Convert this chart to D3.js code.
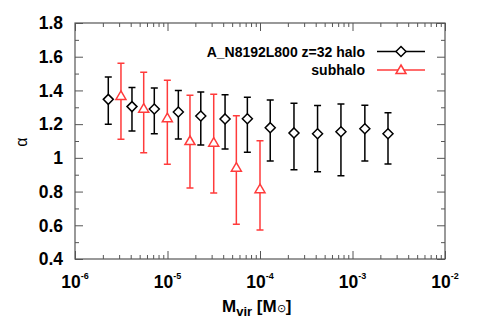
<!DOCTYPE html>
<html>
<head>
    <script src="https://d3js.org/d3.v7.min.js"></script>
    <style>
        body { margin: 0; background: #fff; }
        text { font-family: "Liberation Sans", Arial, sans-serif; }
    </style>
</head>
<body>
    <svg width="480" height="336"></svg>

    <script>
        // halo (black diamonds)
        var haloMass  = [2.29e-6, 4.13e-6, 7.2e-6, 1.31e-5, 2.29e-5, 4.19e-5, 7.3e-5, 1.29e-4, 2.33e-4, 4.19e-4, 7.5e-4, 1.36e-3, 2.42e-3];
        var haloAlpha = [1.347, 1.304, 1.290, 1.272, 1.248, 1.231, 1.232, 1.179, 1.148, 1.143, 1.155, 1.173, 1.143];
        var haloHi    = [1.480, 1.418, 1.414, 1.400, 1.391, 1.375, 1.359, 1.343, 1.324, 1.310, 1.320, 1.312, 1.268];
        var haloLo    = [1.200, 1.159, 1.143, 1.112, 1.076, 1.053, 1.033, 0.981, 0.930, 0.918, 0.894, 0.981, 0.964];

        // subhalo (red triangles)
        var subMass  = [3.14e-6, 5.53e-6, 9.96e-6, 1.75e-5, 3.16e-5, 5.55e-5, 1.0e-4];
        var subAlpha = [1.367, 1.292, 1.235, 1.100, 1.090, 0.942, 0.814];
        var subHi    = [1.561, 1.508, 1.460, 1.371, 1.377, 1.250, 1.102];
        var subLo    = [1.110, 1.031, 0.962, 0.821, 0.792, 0.606, 0.572];

        var yTicks = [0.4, 0.6, 0.8, 1, 1.2, 1.4, 1.6, 1.8];
        var xDecades = [-6, -5, -4, -3, -2];
        var seriesNames = ["A_N8192L800 z=32 halo", "subhalo"];

        var pLeft = 75, pRight = 445, pTop = 23, pBottom = 259;
        var red = "#ff3b3b";

        var svg = d3.select("svg");

        var x = d3.scaleLog().domain([1e-6, 1e-2]).range([pLeft, pRight]);
        var y = d3.scaleLinear().domain([0.4, 1.8]).range([pBottom, pTop]);

        // minor ticks
        var xMinor = [];
        xDecades.slice(0, -1).forEach(function(e) {
            for (var k = 2; k <= 9; k++) xMinor.push(k * Math.pow(10, e));
        });
        var yMinor = d3.range(0.5, 1.8, 0.2);

        var axisColor = "#555";
        function styleAxis(g) {
            g.select(".domain").remove();
            g.selectAll("line").attr("stroke", axisColor);
            g.selectAll("text").remove();
        }

        var xMajor = xDecades.map(function(e) { return Math.pow(10, e); });

        svg.append("g").attr("transform", "translate(0," + pBottom + ")")
            .call(d3.axisBottom(x).tickValues(xMajor).tickSize(-8)).call(styleAxis);
        svg.append("g").attr("transform", "translate(0," + pBottom + ")")
            .call(d3.axisBottom(x).tickValues(xMinor).tickSize(-4)).call(styleAxis);
        svg.append("g").attr("transform", "translate(0," + pTop + ")")
            .call(d3.axisTop(x).tickValues(xMajor).tickSize(-8)).call(styleAxis);
        svg.append("g").attr("transform", "translate(0," + pTop + ")")
            .call(d3.axisTop(x).tickValues(xMinor).tickSize(-4)).call(styleAxis);
        svg.append("g").attr("transform", "translate(" + pLeft + ",0)")
            .call(d3.axisLeft(y).tickValues(yTicks).tickSize(-8)).call(styleAxis);
        svg.append("g").attr("transform", "translate(" + pLeft + ",0)")
            .call(d3.axisLeft(y).tickValues(yMinor).tickSize(-4)).call(styleAxis);
        svg.append("g").attr("transform", "translate(" + pRight + ",0)")
            .call(d3.axisRight(y).tickValues(yTicks).tickSize(-8)).call(styleAxis);
        svg.append("g").attr("transform", "translate(" + pRight + ",0)")
            .call(d3.axisRight(y).tickValues(yMinor).tickSize(-4)).call(styleAxis);

        svg.append("rect")
            .attr("x", pLeft).attr("y", pTop)
            .attr("width", pRight - pLeft).attr("height", pBottom - pTop)
            .attr("fill", "none").attr("stroke", axisColor).attr("stroke-width", 1.2);

        // y tick labels
        svg.selectAll(".ylab").data(yTicks).enter().append("text")
            .attr("x", 63).attr("y", function(d) { return y(d) + 6.3; })
            .attr("text-anchor", "end")
            .attr("font-size", 17.5).attr("font-weight", "bold")
            .text(function(d) { return d === 1 ? "1" : d.toFixed(1); });

        // x tick labels 10^n
        var xl = svg.selectAll(".xlab").data(xDecades).enter().append("text")
            .attr("x", function(d) { return x(Math.pow(10, d)); })
            .attr("y", 287.5)
            .attr("text-anchor", "middle")
            .attr("font-weight", "bold");
        xl.append("tspan").attr("font-size", 17.5).text("10");
        xl.append("tspan").attr("font-size", 9).attr("dy", -8.5)
            .text(function(d) { return d; });

        // axis titles
        var xt = svg.append("text").attr("x", 222).attr("y", 312)
            .attr("font-weight", "bold").attr("font-size", 17);
        xt.append("tspan").text("M");
        xt.append("tspan").attr("font-size", 13).attr("dy", 4).text("vir");
        xt.append("tspan").attr("dy", -4).text(" [M");
        xt.append("tspan").attr("font-size", 11).attr("font-weight", "normal").text("\u2299");
        xt.append("tspan").text("]");

        svg.append("text")
            .attr("transform", "translate(27,142) rotate(-90)")
            .attr("text-anchor", "middle")
            .attr("font-size", 16)
            .text("\u03b1");

        // error bars + markers
        function drawSeries(xs, ys, hi, lo, color, symbol) {
            var g = svg.append("g");
            var pts = xs.map(function(v, i) { return {x: v, y: ys[i], hi: hi[i], lo: lo[i]}; });
            g.selectAll(".bar").data(pts).enter().append("path")
                .attr("fill", "none").attr("stroke", color).attr("stroke-width", 1.5)
                .attr("d", function(d) {
                    var px = x(d.x), cap = 3.5;
                    return "M" + px + "," + y(d.hi) + "V" + y(d.lo) +
                        "M" + (px - cap) + "," + y(d.hi) + "H" + (px + cap) +
                        "M" + (px - cap) + "," + y(d.lo) + "H" + (px + cap);
                });
            g.selectAll(".mk").data(pts).enter().append("path")
                .attr("transform", function(d) { return "translate(" + x(d.x) + "," + y(d.y) + ")"; })
                .attr("d", symbol)
                .attr("fill", "#fff").attr("stroke", color).attr("stroke-width", 1.5);
        }

        var diamond = "M0,-5L5,0L0,5L-5,0Z";
        var triangle = "M0,-5L5,3.5L-5,3.5Z";

        drawSeries(haloMass, haloAlpha, haloHi, haloLo, "#000", diamond);
        drawSeries(subMass, subAlpha, subHi, subLo, red, triangle);

        // legend
        var legend = [
            {name: seriesNames[0], color: "#000", sym: diamond, y: 51.5},
            {name: seriesNames[1], color: red, sym: triangle, y: 70}
        ];
        legend.forEach(function(l) {
            svg.append("text").attr("x", 365).attr("y", l.y + 5)
                .attr("text-anchor", "end").attr("font-size", 14).attr("font-weight", "bold")
                .text(l.name);
            svg.append("line").attr("x1", 377).attr("x2", 425).attr("y1", l.y).attr("y2", l.y)
                .attr("stroke", l.color).attr("stroke-width", 1.5);
            svg.append("path").attr("transform", "translate(401," + l.y + ")")
                .attr("d", l.sym).attr("fill", "#fff").attr("stroke", l.color).attr("stroke-width", 1.5);
        });
    </script>
</body>
</html>
